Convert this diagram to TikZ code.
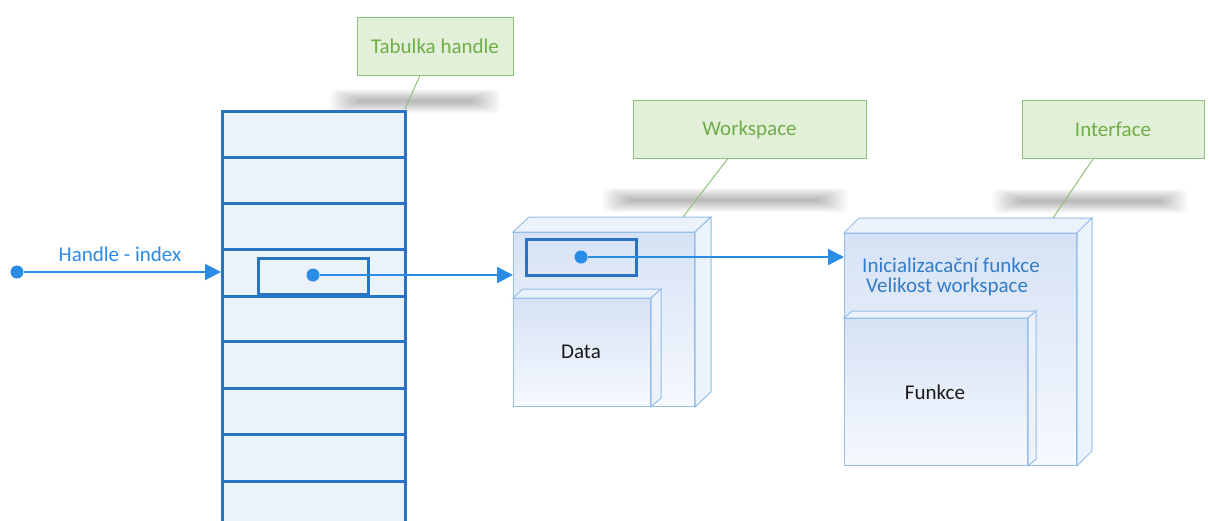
\documentclass[tikz,border=0pt]{standalone}
\usepackage{fontspec}
\setmainfont{Carlito}
\usetikzlibrary{arrows.meta,calc}

\definecolor{tblue}{RGB}{40,115,195}
\definecolor{abl}{RGB}{42,140,228}
\definecolor{boxline}{RGB}{150,190,232}
\definecolor{facetop}{RGB}{214,226,245}
\definecolor{facebot}{RGB}{246,249,254}
\definecolor{sidefill}{RGB}{236,242,251}
\definecolor{gfill}{RGB}{226,240,217}
\definecolor{gline}{RGB}{143,195,122}
\definecolor{gtext}{RGB}{112,173,71}
\definecolor{tfill}{RGB}{236,242,250}
\definecolor{itext}{RGB}{52,124,200}

\tikzset{
  note/.style={draw=gline, fill=gfill, line width=1pt, text=gtext,
    font=\fontsize{21}{25}\selectfont, minimum height=58pt, inner sep=0pt},
  noteline/.style={draw=gline, line width=1pt},
  front/.style={draw=boxline, line width=1pt, inner sep=0pt, anchor=north west,
    top color=facetop, bottom color=facebot},
  side/.style={draw=boxline, line width=1pt, fill=sidefill},
  tablebox/.style={draw=tblue, line width=3pt, fill=tfill, anchor=north west, inner sep=0pt},
  rowline/.style={draw=tblue, line width=3pt},
  slot/.style={draw=tblue, line width=3pt, inner sep=0pt},
  dot/.style={circle, fill=abl, inner sep=0pt, minimum size=13pt},
  arr/.style={draw=abl, line width=2pt, -{Triangle[length=16pt,width=16pt]}},
  label/.style={font=\fontsize{21}{25}\selectfont},
}

\begin{document}
\begin{tikzpicture}[x=1pt,y=-1pt]
\clip (0,0) rectangle (1209,520);
\fill[white] (0,0) rectangle (1209,520);

% soft shadows under the callouts
\foreach \cx/\cy/\w in {415/101/170, 725/200/245, 1090/201/195}{
  \foreach \i in {0,...,11}{
    \fill[black, opacity=0.025, rounded corners=6pt]
      ({\cx-\w/2+\i*2.5},{\cy-12+\i}) rectangle ({\cx+\w/2-\i*2.5},{\cy+12-\i});
  }
}

% handle table
\node[tablebox, minimum width=183pt, minimum height=440pt] (tab) at (221,110) {};
\foreach \y in {157,203,249,296,341,388,434,481}
  \draw[rowline] (221,\y) -- (404,\y);
\node[slot, minimum width=110pt, minimum height=36pt] (slot) at (313,276) {};
\node[dot] (hdot) at (313,275) {};

% incoming handle
\node[dot] (sdot) at (17,272) {};
\draw[arr] (sdot) -- (sdot -| tab.west);
\node[label, text=abl] at (120,254) {Handle - index};

% workspace block
\node[front, minimum width=181pt, minimum height=174pt] (ws) at (513,232) {};
\draw[side] (ws.north west) -- ++(16,-15) -- ($(ws.north east)+(16,-15)$) -- (ws.north east) -- cycle;
\draw[side] (ws.north east) -- ++(16,-15) -- ($(ws.south east)+(16,-15)$) -- (ws.south east) -- cycle;
\node[front, minimum width=181pt, minimum height=174pt] at (513,232) {};
\node[front, minimum width=137pt, minimum height=108pt] (data) at (513,298) {};
\draw[side] (data.north west) -- ++(10,-9) -- ($(data.north east)+(10,-9)$) -- (data.north east) -- cycle;
\draw[side] (data.north east) -- ++(10,-9) -- ($(data.south east)+(10,-9)$) -- (data.south east) -- cycle;
\node[label, text=black!90] at (581,352) {Data};
\node[slot, minimum width=110pt, minimum height=36pt] (wslot) at (581,257) {};
\node[dot] (wdot) at (581,257) {};

\draw[arr] (hdot) -- (hdot -| ws.west);

% interface block
\node[front, minimum width=232pt, minimum height=232pt] (itf) at (844,233) {};
\draw[side] (itf.north west) -- ++(15,-15) -- ($(itf.north east)+(15,-15)$) -- (itf.north east) -- cycle;
\draw[side] (itf.north east) -- ++(15,-15) -- ($(itf.south east)+(15,-15)$) -- (itf.south east) -- cycle;
\node[front, minimum width=232pt, minimum height=232pt] at (844,233) {};
\node[front, minimum width=183pt, minimum height=147pt] (fn) at (844,318) {};
\draw[side] (fn.north west) -- ++(8,-7) -- ($(fn.north east)+(8,-7)$) -- (fn.north east) -- cycle;
\draw[side] (fn.north east) -- ++(8,-7) -- ($(fn.south east)+(8,-7)$) -- (fn.south east) -- cycle;
\node[label, text=black!90] at (935,392) {Funkce};
\node[label, text=itext, anchor=west, inner sep=0pt] (init) at (862,265) {Inicializacační funkce};
\node[label, text=itext, anchor=west, inner sep=0pt] (size) at (866,287) {Velikost workspace};

\draw[arr] (wdot) -- (wdot -| itf.west);

% callouts
\node[note, minimum width=156pt] (ntab) at (435,46) {Tabulka handle};
\node[note, minimum width=233pt] (nws) at (749.5,129.5) {Workspace};
\node[note, minimum width=182pt] (nitf) at (1113,129.5) {Interface};
\coordinate (ctab) at (405,109);
\coordinate (cws) at (683,217);
\coordinate (citf) at (1053,218);
\draw[noteline] ([xshift=-15pt]ntab.south) -- (ctab);
\draw[noteline] ([xshift=-22pt]nws.south) -- (cws);
\draw[noteline] ([xshift=-20pt]nitf.south) -- (citf);
\end{tikzpicture}
\end{document}
